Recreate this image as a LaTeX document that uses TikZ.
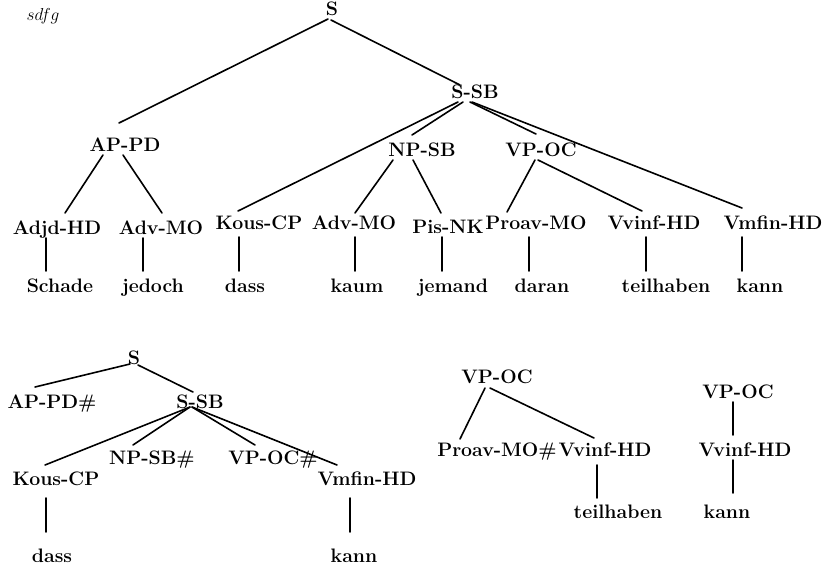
\documentclass[tikz,border=0pt]{standalone}
\begin{document}
\begin{tikzpicture}[x=1pt, y=-1pt]
\tikzset{
  lbl/.style={anchor=base, inner sep=0pt, font=\fontsize{19.5}{23}\selectfont\bfseries},
  edge/.style={line width=1.6pt, line cap=round},
}
% branch from node #1 (offset #2) to node #3 (offset #4), offsets from the base point
\newcommand\tlink[4]{\draw[edge] ([shift={(#2)}]#1.base) -- ([shift={(#4)}]#3.base);}
\useasboundingbox (0,0) rectangle (824,566);

\node[anchor=base, inner sep=0pt, font=\fontsize{16}{18}\selectfont] (title) at (43,20) {$sdfg$};

% ---------- full tree ----------
\node[lbl] (tS)     at (332,15)  {S};
\node[lbl] (tSSB)   at (475,98)  {S-SB};
\node[lbl] (tAPPD)  at (125,151) {AP-PD};
\node[lbl] (tNPSB)  at (422,156) {NP-SB};
\node[lbl] (tVPOC)  at (541,156) {VP-OC};
\node[lbl] (tAdjd)  at (57,234)  {Adjd-HD};
\node[lbl] (tAdvL)  at (161,234) {Adv-MO};
\node[lbl] (tKous)  at (259,229) {Kous-CP};
\node[lbl] (tAdvM)  at (354,229) {Adv-MO};
\node[lbl] (tPis)   at (448,233) {Pis-NK};
\node[lbl] (tProav) at (536,229) {Proav-MO};
\node[lbl] (tVvinf) at (654,229) {Vvinf-HD};
\node[lbl] (tVmfin) at (773,229) {Vmfin-HD};
\node[lbl] (wSchade)  at (60,292)  {Schade};
\node[lbl] (wjedoch)  at (153,292) {jedoch};
\node[lbl] (wdass)    at (245,292) {dass};
\node[lbl] (wkaum)    at (357,292) {kaum};
\node[lbl] (wjemand)  at (453,292) {jemand};
\node[lbl] (wdaran)   at (542,292) {daran};
\node[lbl] (wteil)    at (666,292) {teilhaben};
\node[lbl] (wkann)    at (760,292) {kann};

\tlink{tS}{-4,4}{tAPPD}{-6,-28}
\tlink{tS}{-1,5}{tSSB}{-15,-13}
\tlink{tAPPD}{-22,4}{tAdjd}{8,-21}
\tlink{tAPPD}{-2,4}{tAdvL}{1,-21}
\tlink{tSSB}{-17,4}{tKous}{-21,-18}
\tlink{tSSB}{-12,4}{tNPSB}{-10,-21}
\tlink{tSSB}{-5,4}{tVPOC}{-5,-22}
\tlink{tSSB}{-3,4}{tVmfin}{-31,-21}
\tlink{tNPSB}{-29,4}{tAdvM}{1,-16}
\tlink{tNPSB}{-9,4}{tPis}{-7,-20}
\tlink{tVPOC}{-6,4}{tProav}{-29,-17}
\tlink{tVPOC}{-3,4}{tVvinf}{-12,-18}
\tlink{tAdjd}{-11,4}{wSchade}{-14,-21}
\tlink{tAdvL}{-18,4}{wjedoch}{-10,-21}
\tlink{tKous}{-20,8}{wdass}{-6,-21}
\tlink{tAdvM}{1,8}{wkaum}{-2,-21}
\tlink{tPis}{-6,4}{wjemand}{-11,-21}
\tlink{tProav}{-7,8}{wdaran}{-13,-21}
\tlink{tVvinf}{-8,8}{wteil}{-20,-21}
\tlink{tVmfin}{-31,8}{wkann}{-18,-21}

% ---------- reduced S tree ----------
\node[lbl] (bS)     at (134,364) {S};
\node[lbl] (bAPPD)  at (52,408)  {AP-PD\#};
\node[lbl] (bSSB)   at (200,408) {S-SB};
\node[lbl] (bNPSB)  at (152,464) {NP-SB\#};
\node[lbl] (bVPOC)  at (273,464) {VP-OC\#};
\node[lbl] (bKous)  at (56,485)  {Kous-CP};
\node[lbl] (bVmfin) at (367,485) {Vmfin-HD};
\node[lbl] (bdass)  at (52,562)  {dass};
\node[lbl] (bkann)  at (354,562) {kann};

\tlink{bS}{-4,0}{bAPPD}{-17,-21}
\tlink{bS}{4,1}{bSSB}{-7,-16}
\tlink{bSSB}{-10,-1}{bKous}{-11,-20}
\tlink{bSSB}{-10,-1}{bNPSB}{-19,-19}
\tlink{bSSB}{-8,-1}{bVPOC}{-18,-19}
\tlink{bSSB}{-8,-1}{bVmfin}{-30,-20}
\tlink{bKous}{-10,13}{bdass}{-6,-30}
\tlink{bVmfin}{-17,13}{bkann}{-4,-30}

% ---------- VP-OC fragment ----------
\node[lbl] (mVPOC)  at (497,383) {VP-OC};
\node[lbl] (mProav) at (497,456) {Proav-MO\#};
\node[lbl] (mVvinf) at (605,456) {Vvinf-HD};
\node[lbl] (mteil)  at (618,518) {teilhaben};

\tlink{mVPOC}{-12,5}{mProav}{-37,-17}
\tlink{mVPOC}{-7,5}{mVvinf}{-11,-18}
\tlink{mVvinf}{-8,9}{mteil}{-21,-20}

% ---------- unary VP-OC chain ----------
\node[lbl] (rVPOC)  at (738,398) {VP-OC};
\node[lbl] (rVvinf) at (745,456) {Vvinf-HD};
\node[lbl] (rkann)  at (727,518) {kann};

\tlink{rVPOC}{-5,4}{rVvinf}{-12,-21}
\tlink{rVvinf}{-12,4}{rkann}{6,-25}
\end{tikzpicture}
\end{document}
